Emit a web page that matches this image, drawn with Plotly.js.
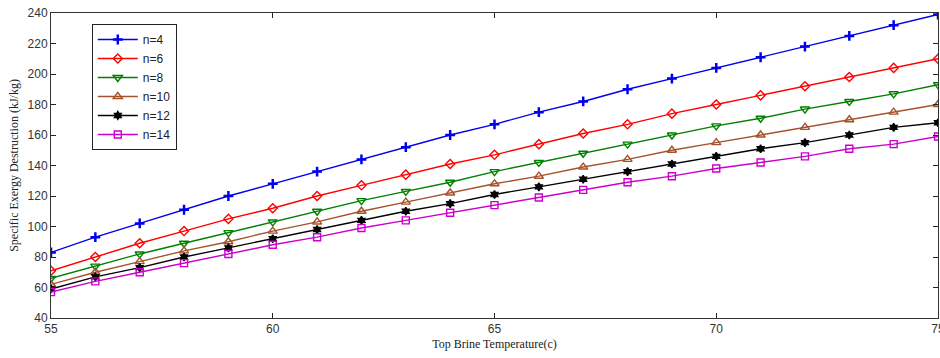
<!DOCTYPE html>
<html>
<head>
<meta charset="utf-8">
<script src="https://cdn.plot.ly/plotly-3.0.1.min.js"></script>
<style>html,body{margin:0;padding:0;background:#fff;}#chart{width:940px;height:358px;}</style>
</head>
<body>
<div id="chart"></div>
<script>
const temps = [55,56,57,58,59,60,61,62,63,64,65,66,67,68,69,70,71,72,73,74,75];
const n4  = [83,93,102,111,120,128,136,144,152,160,167,175,182,190,197,204,211,218,225,232,239];
const n6  = [71,80,89,97,105,112,120,127,134,141,147,154,161,167,174,180,186,192,198,204,210];
const n8  = [66,74,82,89,96,103,110,117,123,129,136,142,148,154,160,166,171,177,182,187,193];
const n10 = [62,70,77,84,90,97,103,110,116,122,128,133,139,144,150,155,160,165,170,175,180];
const n12 = [59,67,73,80,86,92,98,104,110,115,121,126,131,136,141,146,151,155,160,165,168];
const n14 = [57,64,70,76,82,88,93,99,104,109,114,119,124,129,133,138,142,146,151,154,159];
const seriesNames = ['n=4','n=6','n=8','n=10','n=12','n=14'];

const data = [n4,n6,n8,n10,n12,n14];
const colors = ['#0000ee','#ff0000','#008000','#a5522a','#000000','#cc00cc'];
const symbols = ['cross-thin-open','diamond-open','triangle-down-open','triangle-up-open','hexagram','square-open'];
const sizes = [7,7,8,8,6,7];

const traces = data.map((ys,i)=>({
  x: temps, y: ys, name: seriesNames[i], type:'scatter', mode:'lines+markers',
  line:{color:colors[i], width:1.4},
  marker:{symbol:symbols[i], size:sizes[i], color:colors[i], line:{color:colors[i], width:i===0?2.5:1.4}}
}));

const layout = {
  width:940, height:358,
  margin:{l:51, r:2, t:13, b:40},
  paper_bgcolor:'#fff', plot_bgcolor:'#fff',
  showlegend:true,
  legend:{x:0.046, y:0.964, xanchor:'left', yanchor:'top', bordercolor:'#222', borderwidth:1, bgcolor:'#fff',
    font:{family:'Liberation Sans, Arial, sans-serif', size:12, color:'#222'}, tracegroupgap:0, itemwidth:40},
  xaxis:{range:[55,75], tickvals:[55,60,65,70,75], ticks:'inside', ticklen:5, tickcolor:'#222',
    ticklabeloverflow:'allow',
    showline:true, linecolor:'#333', linewidth:1, mirror:'ticks', showgrid:false, zeroline:false,
    tickfont:{family:'Liberation Sans, Arial, sans-serif', size:12, color:'#333'},
    title:{text:'Top Brine Temperature(c)', standoff:4, font:{family:'Liberation Serif, Times New Roman, serif', size:12, color:'#222'}}},
  yaxis:{range:[40,240], dtick:20, tick0:40, ticks:'inside', ticklen:5, tickcolor:'#222',
    showline:true, linecolor:'#333', linewidth:1, mirror:'ticks', showgrid:false, zeroline:false,
    tickfont:{family:'Liberation Sans, Arial, sans-serif', size:12, color:'#333'},
    title:{text:'Specific Exergy Destruction (kJ/kg)', standoff:6, font:{family:'Liberation Serif, Times New Roman, serif', size:12, color:'#222'}}}
};
Plotly.newPlot('chart', traces, layout, {displayModeBar:false, staticPlot:true});
</script>
</body>
</html>
